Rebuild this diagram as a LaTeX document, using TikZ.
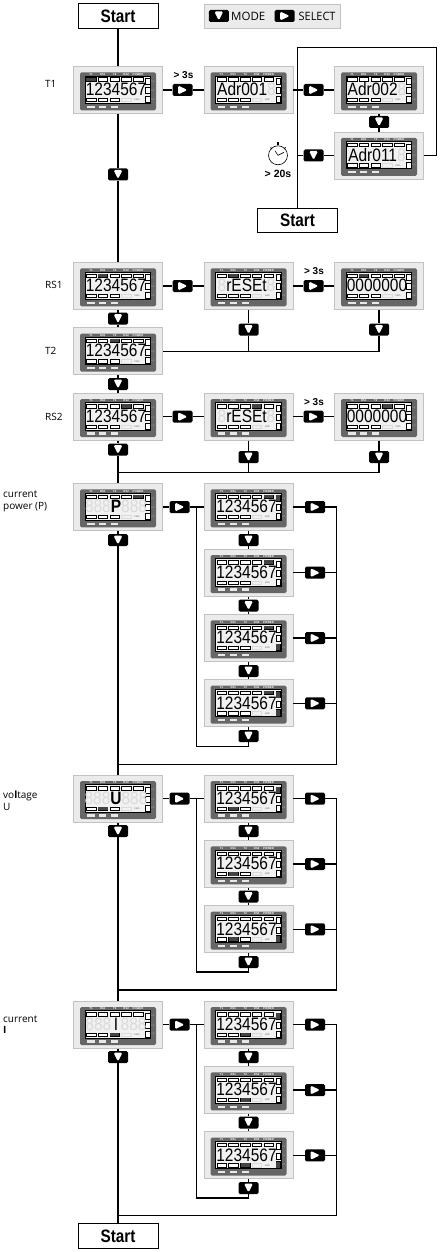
\documentclass[tikz,border=0pt]{standalone}
\usepackage{fontspec}
\setmainfont{Open Sans}
\newfontfamily\lcdfont{Liberation Sans}
\usetikzlibrary{calc}

\definecolor{panelgray}{HTML}{EBEBEB}
\definecolor{framegray}{HTML}{C2C2C2}
\definecolor{darkgray}{HTML}{666666}
\definecolor{lcdgray}{HTML}{F1F1F1}
\definecolor{ghostgray}{HTML}{DADADA}
\definecolor{barlit}{HTML}{444444}

\tikzset{
  flow/.style={line width=1.2pt},
  meterbox/.style={draw=framegray,line width=0.8pt,fill=panelgray,inner sep=0pt,
    minimum width=89pt,minimum height=47pt},
  startbox/.style={draw,line width=1pt,fill=white,inner sep=0pt,
    minimum width=80pt,minimum height=24.5pt,
    font=\lcdfont\fontsize{18}{18}\selectfont\bfseries},
  btn/.style={fill=black,rounded corners=1.5pt,inner sep=0pt,
    minimum width=20pt,minimum height=12pt},
  btndown/.style={btn,path picture={\fill[white]
    ([shift={(-4.5pt,4.5pt)}]path picture bounding box.center) --
    ([shift={(4.5pt,4.5pt)}]path picture bounding box.center) --
    ([shift={(0pt,-4.5pt)}]path picture bounding box.center) -- cycle;}},
  btnright/.style={btn,path picture={\fill[white]
    ([shift={(-4.5pt,4.5pt)}]path picture bounding box.center) --
    ([shift={(5pt,0pt)}]path picture bounding box.center) --
    ([shift={(-4.5pt,-4.5pt)}]path picture bounding box.center) -- cycle;}},
  sidelabel/.style={anchor=west,align=left,inner sep=0pt,
    font=\fontsize{10}{11.5}\selectfont},
  holdlabel/.style={inner sep=0pt,font=\lcdfont\fontsize{10}{10}\selectfont\bfseries},
  toplabel/.style={inner sep=0pt,text=white,font=\lcdfont\fontsize{2.8}{3}\selectfont\bfseries},
  tinylabel/.style={inner sep=0pt,text=framegray,font=\lcdfont\fontsize{2.4}{3}\selectfont},
  legendlabel/.style={anchor=west,inner sep=0pt,font=\fontsize{11.5}{12}\selectfont},
}

\newcommand{\ghost}[1]{\textcolor{ghostgray}{#1}}
% name, position, readout, lit top bar, lit bottom bar, lit side bars (0 = none)
\newcommand{\meter}[6]{%
  \node[meterbox] (#1) at (#2) {};
  \begin{scope}[shift={(#2)}]
    \fill[darkgray,rounded corners=1.5pt] (-38,-17.7) rectangle (38,20.3);
    \draw[fill=lcdgray,line width=0.7pt] (-33,-14) rectangle (32.7,13.3);
    % top row
    \foreach \px/\txt in {-27/T1,-15.2/RS1,-3.3/T2,8.2/RS2,20/POWER}{
      \node[toplabel] at (\px,-15.9) {\txt};
      \draw[fill=white,line width=0.4pt] (\px-4.7,-12.3) rectangle (\px+4.7,-8.9);
    }
    \foreach \i in {#4}{\ifnum\i>0
      \fill[barlit] ({-27+11.75*(\i-1)-4.7},-12.3) rectangle ({-27+11.75*(\i-1)+4.7},-8.9);\fi}
    % bottom row
    \foreach \px in {-27,-15.2,-3.3}{
      \draw[fill=white,line width=0.4pt] (\px-4.7,8) rectangle (\px+4.7,11.6);
      \fill[white,opacity=0.85] (\px-3.6,15.6) rectangle (\px+3.6,17.8);
    }
    \foreach \i in {#5}{\ifnum\i>0
      \fill[barlit] ({-27+11.85*(\i-1)-4.7},8) rectangle ({-27+11.85*(\i-1)+4.7},11.6);\fi}
    \draw[ghostgray,line width=0.4pt] (3.5,8) rectangle (13,11.6);
    \node[inner sep=0pt,text=darkgray,font=\lcdfont\fontsize{2.4}{3}\selectfont] at (19,10) {kWh};
    % side bars
    \foreach \py/\txt in {-8.7/L1,0.5/L2,9.3/L3}{
      \draw[fill=white,line width=0.5pt] (27.4,\py-3) rectangle (31.8,\py+3);
      \node[tinylabel] at (35,\py) {\txt};
    }
    \foreach \i in {#6}{\ifnum\i>0
      \fill[barlit] (27.4,{-8.7+9*(\i-1)-3}) rectangle (31.8,{-8.7+9*(\i-1)+3});\fi}
    % readout
    \node[inner sep=0pt,font=\lcdfont\fontsize{18}{18}\selectfont] at (-2,-0.5)
      {\scalebox{.86}[1]{#3}};
  \end{scope}
}

\begin{document}
\begin{tikzpicture}[x=1pt,y=-1pt]
  \useasboundingbox (0,0) rectangle (442,1252);

  % legend
  \node[fill=panelgray,draw=framegray,line width=0.8pt,minimum width=136.5pt,minimum height=24pt,inner sep=0pt] (legend) at (272.3,16.3) {};
  \node[btndown] (keyMode) at (218.8,16) {};
  \node[legendlabel] (txtMode) at (231,16.3) {MODE};
  \node[btnright] (keySelect) at (284.7,16) {};
  \node[legendlabel] (txtSelect) at (298.5,16.3) {\scalebox{.95}[1]{SELECT}};

  % start boxes
  \node[startbox] (start1) at (118,16.2) {\scalebox{.85}[1]{Start}};
  \node[startbox] (start2) at (297.5,220.5) {\scalebox{.85}[1]{Start}};
  \node[startbox] (start3) at (118,1235.8) {\scalebox{.85}[1]{Start}};

  % meters, T1 row and address loop
  \meter{T1}{118,90}{1234567}{1}{0}{0}
  \meter{adrA}{248.5,90}{Adr001\ghost{8}}{0}{0}{0}
  \meter{adrB}{379,90}{Adr002\ghost{8}}{0}{0}{0}
  \meter{adrC}{379,155.5}{Adr011\ghost{8}}{0}{0}{0}
  % reset rows
  \meter{RSa}{118,286}{1234567}{2}{0}{0}
  \meter{RSb}{248.5,286}{\ghost{8}rESEt\ghost{8}}{2}{0}{0}
  \meter{RSc}{379,286}{0000000}{2}{0}{0}
  \meter{T2}{118,351.3}{1234567}{3}{0}{0}
  \meter{RTa}{118,416.7}{1234567}{4}{0}{0}
  \meter{RTb}{248.5,416.7}{\ghost{8}rESEt\ghost{8}}{4}{0}{0}
  \meter{RTc}{379,416.7}{0000000}{4}{0}{0}
  % power
  \meter{Pa}{118,507}{\ghost{888}\textbf{P}\ghost{888}}{5}{0}{0}
  \meter{Pb}{248.5,507}{1234567}{5}{0}{1}
  \meter{Pc}{248.5,572.7}{1234567}{5}{0}{0}
  \meter{Pd}{248.5,638}{1234567}{5}{0}{3}
  \meter{Pe}{248.5,703.3}{1234567}{5}{0}{1,3}
  % voltage
  \meter{Ua}{118,798.7}{\ghost{888}\textbf{U}\ghost{888}}{0}{2}{0}
  \meter{Ub}{248.5,798.7}{1234567}{0}{2}{1}
  \meter{Uc}{248.5,864}{1234567}{0}{2}{0}
  \meter{Ud}{248.5,929.3}{1234567}{0}{2}{3}
  % current
  \meter{Ia}{118,1024.7}{\ghost{888}\,I\,\ghost{888}}{0}{3}{0}
  \meter{Ib}{248.5,1024.7}{1234567}{0}{3}{1}
  \meter{Ic}{248.5,1090}{1234567}{0}{3}{0}
  \meter{Id}{248.5,1155.3}{1234567}{0}{3}{3}

  % keys
  \node[btnright] (k1) at (182.5,90) {};
  \node[btnright] (k2) at (313.5,90) {};
  \node[btndown] (k3) at (379,122) {};
  \node[btndown] (k4) at (313.5,155.5) {};
  \node[btndown] (k5) at (118,174.5) {};
  \node[btnright] (k6) at (182.5,286) {};
  \node[btnright] (k7) at (313.5,286) {};
  \node[btndown] (k8) at (248.5,329.5) {};
  \node[btndown] (k9) at (379,329.5) {};
  \node[btndown] (k10) at (118,318.7) {};
  \node[btndown] (k11) at (118,384) {};
  \node[btnright] (k12) at (182.5,416.7) {};
  \node[btnright] (k13) at (313.5,416.7) {};
  \node[btndown] (k14) at (118,449.5) {};
  \node[btndown] (k15) at (248.5,457) {};
  \node[btndown] (k16) at (379,457) {};

  % power, voltage and current keys share one pattern
  \foreach \rowname/\ya/\yb/\yc/\yd/\ye in {P/507/540/572.7/605.5/638,U/798.7/831/864/896.5/929.3,I/1024.7/1057/1090/1122.5/1155.3}{
    \node[btnright] (go\rowname) at (179.5,\ya) {};
    \node[btndown] (dn\rowname) at (118,\yb) {};
    \node[btndown] (dn\rowname a) at (248.5,\yb) {};
    \node[btndown] (dn\rowname b) at (248.5,\yd) {};
    \node[btnright] (r\rowname a) at (315,\ya) {};
    \node[btnright] (r\rowname b) at (315,\yc) {};
    \node[btnright] (r\rowname c) at (315,\ye) {};
  }
  \node[btndown] (dnPc) at (248.5,671) {};
  \node[btndown] (dnPd) at (248.5,736) {};
  \node[btnright] (rPd) at (315,703.3) {};
  \node[btndown] (dnUc) at (248.5,962) {};
  \node[btndown] (dnIc) at (248.5,1188) {};

  % junctions
  \coordinate (jA) at (297.5,90);
  \coordinate (jB) at (297.5,155.5);
  \coordinate (jC) at (297.5,47.7);
  \coordinate (jD) at (436.5,47.7);
  \coordinate (jE) at (436.5,155.5);
  \coordinate (jF) at (248.5,351.3);
  \coordinate (jG) at (379,351.3);
  \coordinate (jH) at (118,472.7);
  \coordinate (jI) at (248.5,472.7);
  \coordinate (jJ) at (379,472.7);

  % top part
  \draw[flow] (start1) -- (T1);
  \draw[flow] (T1) -- (k5) -- (RSa);
  \draw[flow] (T1) -- (k1) -- (adrA);
  \draw[flow] (adrA) -- (k2) -- (adrB);
  \draw[flow] (adrB) -- (k3) -- (adrC);
  \draw[flow] (adrC) -- (k4);
  \draw[flow] (k4) -- (jB);
  \draw[flow] (start2) -- (jC) -- (jD) -- (jE) -- (adrC);
  % reset rows
  \draw[flow] (RSa) -- (k6) -- (RSb);
  \draw[flow] (RSb) -- (k7) -- (RSc);
  \draw[flow] (RSa) -- (k10) -- (T2);
  \draw[flow] (T2) -- (k11) -- (RTa);
  \draw[flow] (RSb) -- (k8) -- (jF);
  \draw[flow] (RSc) -- (k9) -- (jG) -- (T2);
  \draw[flow] (RTa) -- (k12) -- (RTb);
  \draw[flow] (RTb) -- (k13) -- (RTc);
  \draw[flow] (RTa) -- (k14) -- (Pa);
  \draw[flow] (RTb) -- (k15) -- (jI);
  \draw[flow] (RTc) -- (k16) -- (jJ) -- (jH);

  % power
  \draw[flow] (Pa) -- (goP) -- (Pb);
  \draw[flow] (Pa) -- (dnP) -- (Ua);
  \draw[flow] (Pb) -- (dnPa) -- (Pc);
  \draw[flow] (Pc) -- (dnPb) -- (Pd);
  \draw[flow] (Pd) -- (dnPc) -- (Pe);
  \draw[flow] (Pe) -- (dnPd);
  \coordinate (pL) at (196.5,507);
  \coordinate (pM) at (196.5,746.7);
  \coordinate (pN) at (248.5,746.7);
  \draw[flow] (pL) -- (pM) -- (pN) -- (dnPd);
  \coordinate (pR) at (336.3,507);
  \coordinate (pS) at (336.3,764.3);
  \coordinate (pT) at (118,764.3);
  \coordinate (pB) at (336.3,572.7);
  \coordinate (pC) at (336.3,638);
  \coordinate (pD) at (336.3,703.3);
  \draw[flow] (Pb) -- (rPa) -- (pR) -- (pS) -- (pT);
  \draw[flow] (Pc) -- (rPb) -- (pB);
  \draw[flow] (Pd) -- (rPc) -- (pC);
  \draw[flow] (Pe) -- (rPd) -- (pD);

  % voltage
  \draw[flow] (Ua) -- (goU) -- (Ub);
  \draw[flow] (Ua) -- (dnU) -- (Ia);
  \draw[flow] (Ub) -- (dnUa) -- (Uc);
  \draw[flow] (Uc) -- (dnUb) -- (Ud);
  \draw[flow] (Ud) -- (dnUc);
  \coordinate (uL) at (196.5,798.7);
  \coordinate (uM) at (196.5,972);
  \coordinate (uN) at (248.5,972);
  \draw[flow] (uL) -- (uM) -- (uN) -- (dnUc);
  \coordinate (uR) at (336.3,798.7);
  \coordinate (uS) at (336.3,990);
  \coordinate (uT) at (118,990);
  \coordinate (uB) at (336.3,864);
  \coordinate (uC) at (336.3,929.3);
  \draw[flow] (Ub) -- (rUa) -- (uR) -- (uS) -- (uT);
  \draw[flow] (Uc) -- (rUb) -- (uB);
  \draw[flow] (Ud) -- (rUc) -- (uC);

  % current
  \draw[flow] (Ia) -- (goI) -- (Ib);
  \draw[flow] (Ia) -- (dnI) -- (start3);
  \draw[flow] (Ib) -- (dnIa) -- (Ic);
  \draw[flow] (Ic) -- (dnIb) -- (Id);
  \draw[flow] (Id) -- (dnIc);
  \coordinate (iL) at (196.5,1024.7);
  \coordinate (iM) at (196.5,1198);
  \coordinate (iN) at (248.5,1198);
  \draw[flow] (iL) -- (iM) -- (iN) -- (dnIc);
  \coordinate (iR) at (336.3,1024.7);
  \coordinate (iS) at (336.3,1215.7);
  \coordinate (iT) at (118,1215.7);
  \coordinate (iB) at (336.3,1090);
  \coordinate (iC) at (336.3,1155.3);
  \draw[flow] (Ib) -- (rIa) -- (iR) -- (iS) -- (iT);
  \draw[flow] (Ic) -- (rIb) -- (iB);
  \draw[flow] (Id) -- (rIc) -- (iC);

  % hold times
  \node[holdlabel] (hold1) at (183.5,75.5) {> 3s};
  \node[holdlabel] (hold2) at (314,271) {> 3s};
  \node[holdlabel] (hold3) at (314,402) {> 3s};
  \node[holdlabel,font=\lcdfont\fontsize{10.5}{10.5}\selectfont\bfseries] (hold4) at (278,173.7) {> 20s};

  % stopwatch
  \node[circle,draw,line width=0.6pt,minimum size=19pt,inner sep=0pt] (clock) at (278,155.3) {};
  \draw[line width=1.2pt] (clock.north) -- +(0,-3);
  \draw[line width=0.8pt] (272,149) -- +(-1.5,-1.5);
  \draw[line width=0.8pt] (284,149) -- +(1.5,-1.5);
  \draw[line width=0.6pt] (clock.center) -- +(-3,-4.5);
  \draw[line width=0.6pt] (clock.center) -- +(6,-3);

  % row labels
  \node[sidelabel] (lblT1) at (45,84) {T1};
  \node[sidelabel] (lblRS1) at (45,285) {RS1};
  \node[sidelabel] (lblT2) at (45,351) {T2};
  \node[sidelabel] (lblRS2) at (45,416.5) {RS2};
  \node[sidelabel] (lblP) at (3,501.5) {current\\power (P)};
  \node[sidelabel] (lblU) at (3,800.5) {vo{\bfseries l}tage\\U};
  \node[sidelabel] (lblI) at (3,1024.5) {current\\{\bfseries I}};
\end{tikzpicture}
\end{document}
